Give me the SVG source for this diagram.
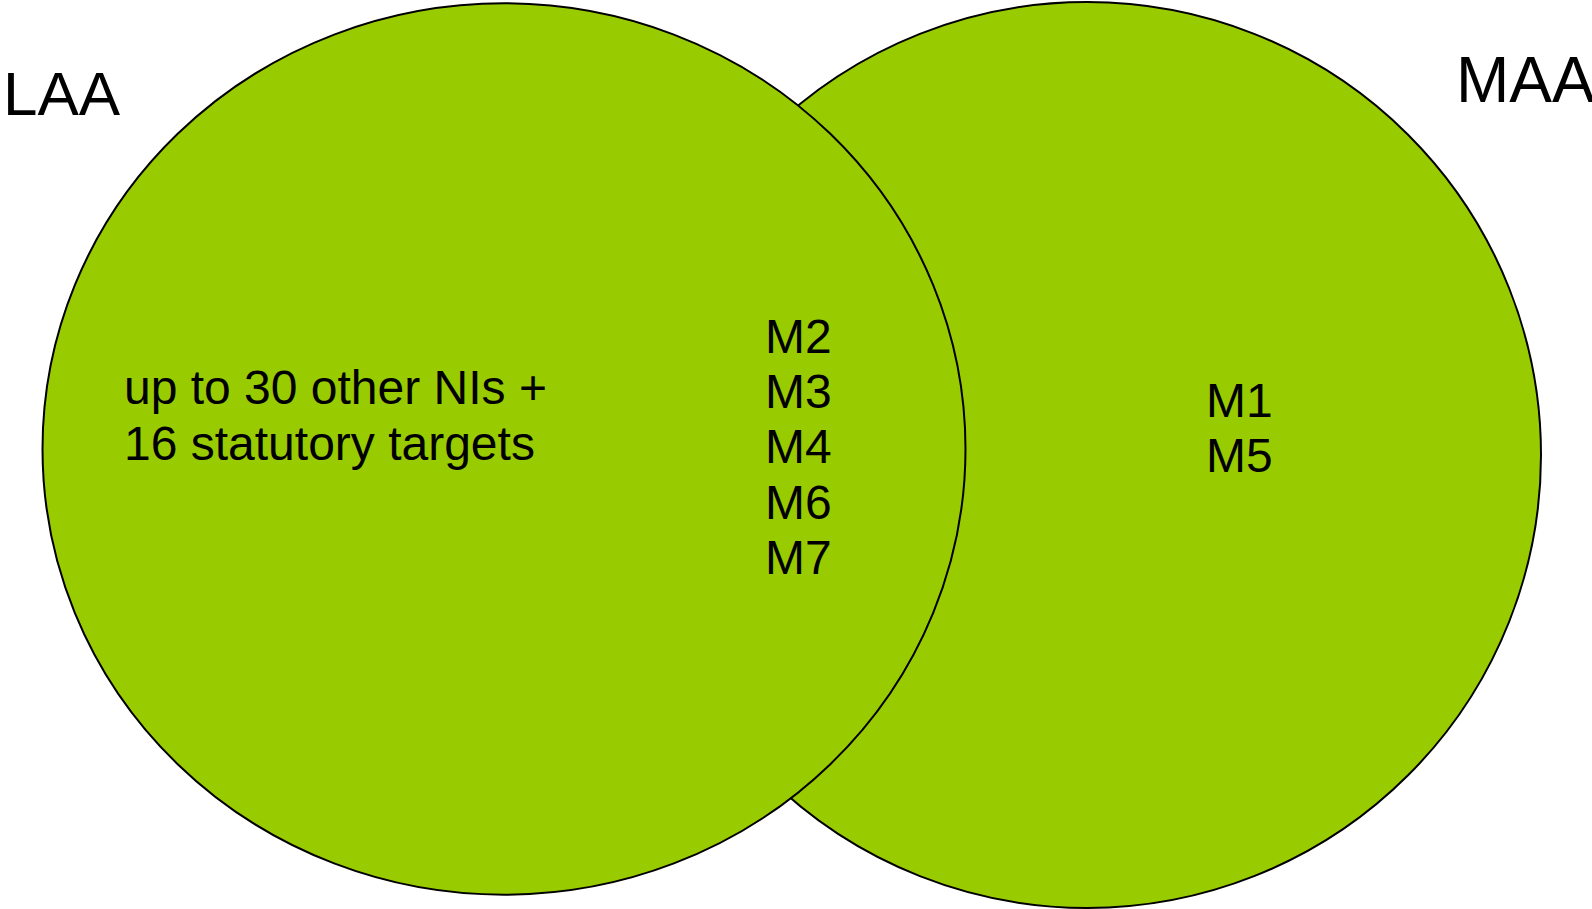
<svg xmlns="http://www.w3.org/2000/svg" width="1592" height="909" viewBox="0 0 1592 909">
<style>
.set{fill:#99CC00;stroke:#000;stroke-width:2}
.t{font-family:"Liberation Sans",Arial,sans-serif;fill:#000}
.in{font-size:48px}
</style>
<rect width="1592" height="909" fill="#fff"/>
<g id="maa">
<ellipse class="set" cx="1087" cy="455" rx="454" ry="453"/>
</g>
<g id="laa">
<ellipse class="set" cx="504" cy="449" rx="461.5" ry="445.7"/>
</g>
<g id="laa-label"><text class="t" x="3" y="115" font-size="62">LAA</text></g>
<g id="maa-label"><text class="t" x="1456" y="102" font-size="64">MAA</text></g>
<g id="laa-only">
<text class="t in" x="124" y="404">up to 30 other NIs +</text>
<text class="t in" x="124" y="460">16 statutory targets</text>
</g>
<g id="intersection">
<text class="t in" x="765" y="353">M2</text>
<text class="t in" x="765" y="408">M3</text>
<text class="t in" x="765" y="463">M4</text>
<text class="t in" x="765" y="519">M6</text>
<text class="t in" x="765" y="574">M7</text>
</g>
<g id="maa-only">
<text class="t in" x="1206" y="417">M1</text>
<text class="t in" x="1206" y="472">M5</text>
</g>
<g id="connectors"/>
</svg>
